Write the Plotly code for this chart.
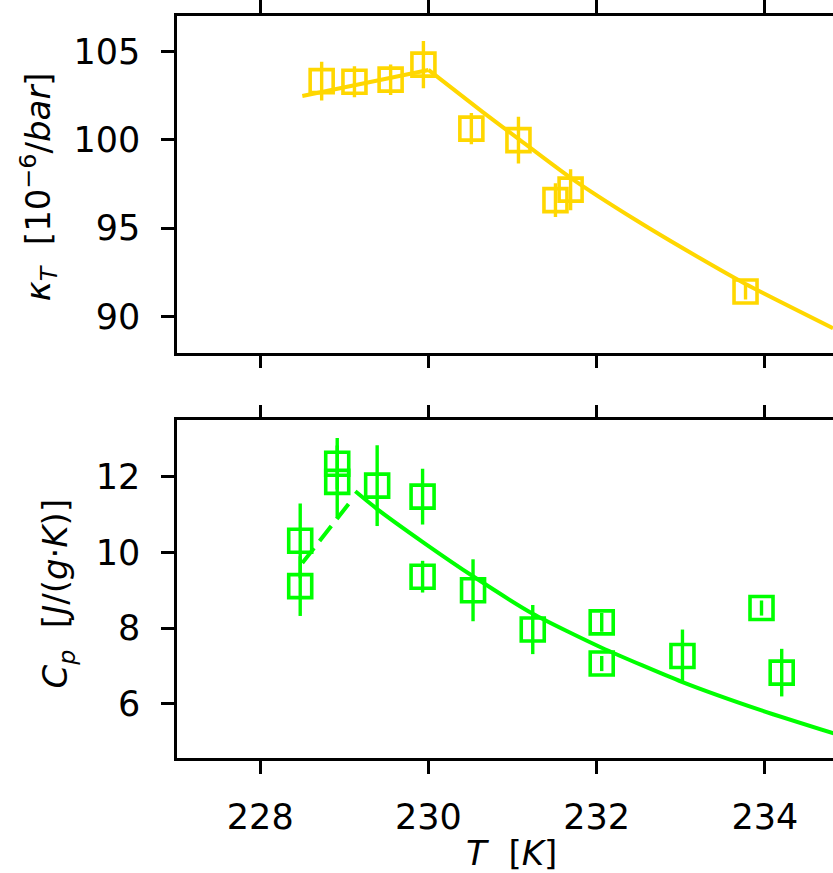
import plotly.graph_objects as go

# ---- data: isothermal compressibility (top) ----
kT_T = [228.73, 229.12, 229.55, 229.94, 230.51, 231.07, 231.51, 231.69, 233.77]
kT_val = [103.32, 103.28, 103.40, 104.25, 100.63, 99.98, 96.59, 97.18, 91.42]
kT_err = [1.10, 0.88, 0.86, 1.34, 0.88, 1.32, 0.95, 1.16, 0.45]

kT_fit_T = [228.50, 230.00, 230.65, 231.07, 231.69, 232.47, 233.23, 233.77, 234.81]
kT_fit_val = [102.48, 103.95, 101.55, 100.05, 97.85, 95.45, 93.30, 91.85, 89.35]

# ---- data: heat capacity (bottom) ----
cp_T = [228.475, 228.475, 228.915, 228.915, 229.39, 229.93, 229.93, 230.53,
        231.24, 232.06, 232.06, 233.02, 233.96, 234.20]
cp_val = [10.31, 9.11, 12.35, 11.87, 11.77, 11.48, 9.36, 9.00,
          7.96, 8.15, 7.06, 7.26, 8.53, 6.82]
cp_err = [0.99, 0.79, 0.68, 0.96, 1.07, 0.74, 0.42, 0.82,
          0.65, 0.25, 0.20, 0.70, 0.20, 0.63]

cp_dash_T = [228.50, 229.07]
cp_dash_val = [9.72, 11.34]
cp_fit_T = [229.13, 229.39, 229.95, 230.53, 231.24, 232.06, 233.02, 233.96, 234.82]
cp_fit_val = [11.62, 11.15, 10.25, 9.37, 8.38, 7.48, 6.57, 5.82, 5.21]

x_ticks = [228, 230, 232, 234]
kT_ticks = [90, 95, 100, 105]
cp_ticks = [6, 8, 10, 12]

GOLD = "#FFD700"
GREEN = "#00FF00"
FONT = "DejaVu Sans"

fig = go.Figure()

# top panel
fig.add_trace(go.Scatter(x=kT_fit_T[:2], y=kT_fit_val[:2], mode="lines",
                         line=dict(color=GOLD, width=4), xaxis="x", yaxis="y",
                         showlegend=False, hoverinfo="skip"))
fig.add_trace(go.Scatter(x=kT_fit_T[1:], y=kT_fit_val[1:], mode="lines",
                         line=dict(color=GOLD, width=4, shape="spline", smoothing=0.6),
                         xaxis="x", yaxis="y", showlegend=False, hoverinfo="skip"))
fig.add_trace(go.Scatter(x=kT_T, y=kT_val, mode="markers",
                         marker=dict(symbol="square-open", size=23, color=GOLD,
                                     line=dict(width=3.6, color=GOLD)),
                         error_y=dict(type="data", array=kT_err, color=GOLD,
                                      thickness=3.4, width=0),
                         xaxis="x", yaxis="y", showlegend=False))

# bottom panel
fig.add_trace(go.Scatter(x=cp_dash_T, y=cp_dash_val, mode="lines",
                         line=dict(color=GREEN, width=4, dash="19px,9px"),
                         xaxis="x2", yaxis="y2", showlegend=False, hoverinfo="skip"))
fig.add_trace(go.Scatter(x=cp_fit_T, y=cp_fit_val, mode="lines",
                         line=dict(color=GREEN, width=4, shape="spline", smoothing=0.6),
                         xaxis="x2", yaxis="y2", showlegend=False, hoverinfo="skip"))
fig.add_trace(go.Scatter(x=cp_T, y=cp_val, mode="markers",
                         marker=dict(symbol="square-open", size=23, color=GREEN,
                                     line=dict(width=3.6, color=GREEN)),
                         error_y=dict(type="data", array=cp_err, color=GREEN,
                                      thickness=3.4, width=0),
                         xaxis="x2", yaxis="y2", showlegend=False))

tickfont = dict(family=FONT, size=35, color="black")
common = dict(showline=True, linecolor="black", linewidth=2.5, ticks="outside",
              ticklen=13, tickwidth=2.5, tickcolor="black", showgrid=False,
              zeroline=False, tickfont=tickfont)

xr = [227.01, 234.81]
top_dom = [(758 - 350) / 747, 1.0]
bot_dom = [0.0, (758 - 418) / 747]

fig.update_layout(
    width=833, height=873,
    margin=dict(l=177, r=0, t=10, b=115),
    paper_bgcolor="white", plot_bgcolor="white",
    xaxis=dict(domain=[0, 1], anchor="y", range=xr, tickvals=x_ticks,
               showticklabels=False, mirror="ticks", **common),
    yaxis=dict(domain=top_dom, anchor="x", range=[87.96, 107.0], tickvals=kT_ticks,
               mirror=False, ticklabelstandoff=14, **common),
    xaxis2=dict(domain=[0, 1], anchor="y2", range=xr, tickvals=x_ticks,
                mirror="ticks", ticklabelstandoff=13, **common),
    yaxis2=dict(domain=bot_dom, anchor="x2", range=[4.56, 13.5], tickvals=cp_ticks,
                mirror=False, ticklabelstandoff=14, **common),
    annotations=[
        dict(text="<i>κ</i><sub><i>T</i></sub>  [10<sup>−6</sup>/<i>bar</i>]",
             xref="paper", yref="paper", x=(38 - 177) / 656, y=(758 - 183.5) / 747,
             xanchor="center", yanchor="middle", textangle=-90, showarrow=False,
             font=dict(family=FONT, size=34, color="black")),
        dict(text="<i>C</i><sub><i>p</i></sub>  [<i>J</i>/(<i>g</i>·<i>K</i>)]",
             xref="paper", yref="paper", x=(57.5 - 177) / 656, y=(758 - 593) / 747,
             xanchor="center", yanchor="middle", textangle=-90, showarrow=False,
             font=dict(family=FONT, size=34, color="black")),
        dict(text="<i>T</i>  [<i>K</i>]",
             xref="paper", yref="paper", x=(511 - 177) / 656, y=(758 - 854) / 747,
             xanchor="center", yanchor="middle", showarrow=False,
             font=dict(family=FONT, size=34, color="black")),
    ],
)

fig.write_html("out.html")
